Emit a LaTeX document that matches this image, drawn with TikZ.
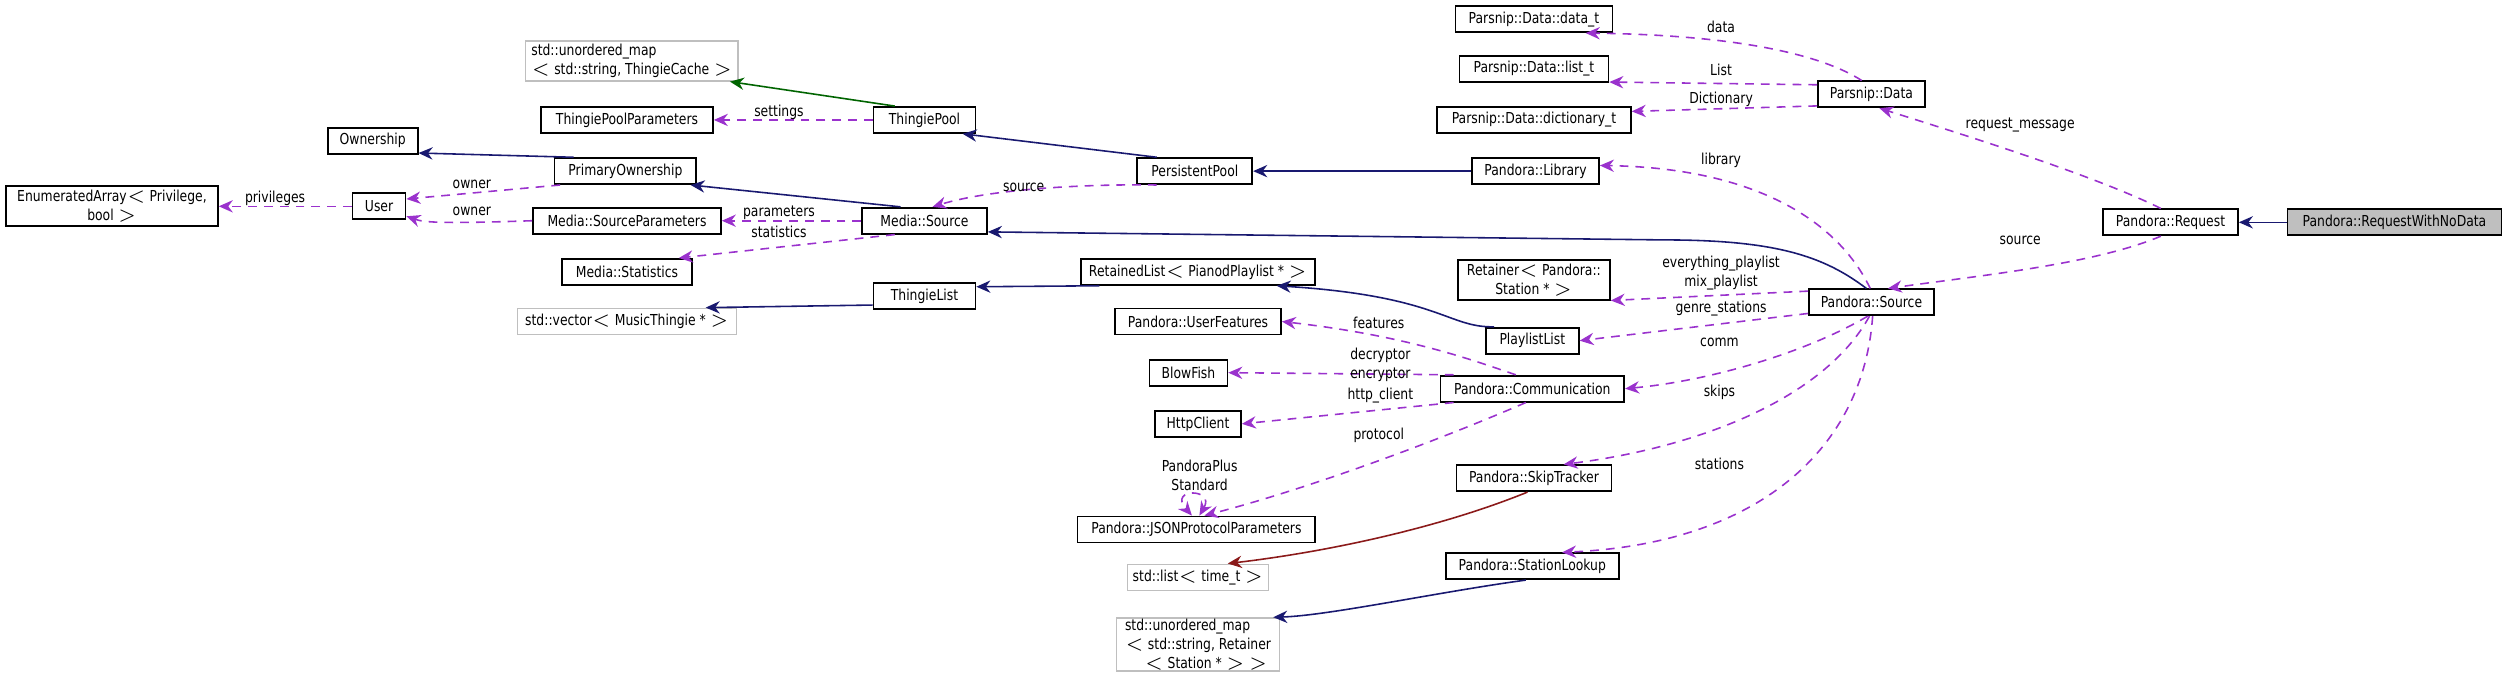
\documentclass[tikz,border=0pt]{standalone}
\usepackage{fontspec}
\setmainfont{DejaVu Sans}[FakeStretch=0.82]
\usetikzlibrary{arrows.meta}
\definecolor{inhc}{HTML}{191970}
\definecolor{usec}{HTML}{9A32CD}
\definecolor{tplc}{HTML}{006400}
\definecolor{redc}{HTML}{8B1A1A}
\definecolor{grayb}{HTML}{BFBFBF}
\begin{document}
\begin{tikzpicture}[x=0.016cm,y=-0.016cm,
  box/.style={draw=black,line width=0.5pt,inner sep=0,minimum height=0.26cm,align=center,font=\fontsize{4.3}{5.4}\selectfont},
  gbox/.style={box,draw=grayb},
  lbl/.style={inner sep=0,align=center,font=\fontsize{4.3}{5.4}\selectfont},
  inh/.style={draw=inhc,line width=0.45pt,-{Stealth[length=4pt,width=3.5pt]}},
  use/.style={draw=usec,line width=0.45pt,dash pattern=on 2.5pt off 2pt,-{Stealth[length=4pt,width=3.5pt]}},
  tpl/.style={draw=tplc,line width=0.45pt,-{Stealth[length=4pt,width=3.5pt]}},
  rd/.style={draw=redc,line width=0.45pt,-{Stealth[length=4pt,width=3.5pt]}}]
\useasboundingbox (0,0) rectangle (1568,424);
% nodes
\node[box,minimum width=2.12cm,minimum height=0.4cm] (ea) at (70,129) {EnumeratedArray$<$ Privilege,\\bool $>$};
\node[box,minimum width=0.53cm] (user) at (237,129) {User};
\node[box,minimum width=0.9cm] (own) at (233,88) {Ownership};
\node[box,minimum width=1.42cm] (po) at (391,107) {PrimaryOwnership};
\node[gbox,minimum width=2.13cm,minimum height=0.4cm,align=left] (tc) at (395,38) {std::unordered\_map\\$<$ std::string, ThingieCache $>$};
\node[box,minimum width=1.72cm] (tpp) at (392,75) {ThingiePoolParameters};
\node[box,minimum width=1.02cm] (tp) at (578,75) {ThingiePool};
\node[box,minimum width=1.88cm] (sp) at (392,138) {Media::SourceParameters};
\node[box,minimum width=1.3cm] (stat) at (392,170) {Media::Statistics};
\node[gbox,minimum width=2.19cm] (vec) at (392,201) {std::vector$<$ MusicThingie * $>$};
\node[box,minimum width=1.25cm] (msrc) at (578,138) {Media::Source};
\node[box,minimum width=1.02cm] (tl) at (578,185) {ThingieList};
\node[box,minimum width=1.15cm] (pp) at (747,107) {PersistentPool};
\node[box,minimum width=2.34cm] (rl) at (749,170) {RetainedList$<$ PianodPlaylist * $>$};
\node[box,minimum width=1.66cm] (uf) at (749,201) {Pandora::UserFeatures};
\node[box,minimum width=0.78cm] (bf) at (743,233) {BlowFish};
\node[box,minimum width=0.86cm] (hc) at (749,265) {HttpClient};
\node[box,minimum width=2.38cm] (json) at (748,331) {Pandora::JSONProtocolParameters};
\node[gbox,minimum width=1.41cm] (lst) at (749,361) {std::list$<$ time\_t $>$};
\node[gbox,minimum width=1.63cm,minimum height=0.53cm,align=left] (um) at (749,403) {std::unordered\_map\\$<$ std::string, Retainer\\\ \ \ \ \ $<$ Station * $>$ $>$};
\node[box,minimum width=1.27cm] (lib) at (960,107) {Pandora::Library};
\node[box,minimum width=1.52cm,minimum height=0.4cm] (ret) at (959,175) {Retainer$<$ Pandora::\\Station * $>$};
\node[box,minimum width=0.93cm] (pl) at (958,213) {PlaylistList};
\node[box,minimum width=1.84cm] (comm) at (958,243) {Pandora::Communication};
\node[box,minimum width=1.55cm] (skip) at (959,299) {Pandora::SkipTracker};
\node[box,minimum width=1.73cm] (sl) at (958,354) {Pandora::StationLookup};
\node[box,minimum width=1.57cm] (dt) at (959,12) {Parsnip::Data::data\_t};
\node[box,minimum width=1.49cm] (lt) at (959,43) {Parsnip::Data::list\_t};
\node[box,minimum width=1.94cm] (dict) at (959,75) {Parsnip::Data::dictionary\_t};
\node[box,minimum width=1.07cm] (pdata) at (1170,59) {Parsnip::Data};
\node[box,minimum width=1.25cm] (src) at (1170,189) {Pandora::Source};
\node[box,minimum width=1.35cm] (req) at (1357,139) {Pandora::Request};
\node[box,fill=grayb,minimum width=2.14cm] (rwnd) at (1497,139) {Pandora::RequestWithNoData};
% edges
\draw[inh] (rwnd) -- (req);
\draw[use] (req.125) .. controls (1310,110) and (1230,85) .. (pdata.-60);
\draw[use] (req.-125) .. controls (1310,165) and (1240,172) .. (src.40);
\draw[use] (pdata.125) .. controls (1140,35) and (1090,22) .. (dt.-15);
\draw[use] (pdata.170) -- (lt.-10);
\draw[use] (pdata.-168) -- (dict.5);
\draw[use] (src.95) .. controls (1150,140) and (1100,105) .. (lib.5);
\draw[inh] (src.110) .. controls (1140,160) and (1110,150) .. (1040,150) -- (msrc.-10);
\draw[use] (src.170) -- (ret.-15);
\draw[use] (src.-170) -- (pl.east);
\draw[use] (src.-105) .. controls (1130,220) and (1070,238) .. (comm.east);
\draw[use] (src.-98) .. controls (1140,250) and (1060,280) .. (skip.25);
\draw[use] (src.-85) .. controls (1165,280) and (1100,340) .. (sl.25);
\draw[inh] (lib) -- (pp);
\draw[inh] (pp.160) -- (tp.-20);
\draw[use] (pp.-160) .. controls (680,115) and (620,118) .. (msrc.60);
\draw[tpl] (tp.155) -- (tc.-12);
\draw[use] (tp.west) -- (tpp.east);
\draw[inh] (msrc.150) -- (po.-12);
\draw[use] (msrc.west) -- (sp.east);
\draw[use] (msrc.-155) -- (stat.15);
\draw[inh] (po.165) -- (own.-15);
\draw[use] (po.-168) -- (user.15);
\draw[use] (sp.west) .. controls (275,140) and (265,139) .. (user.-20);
\draw[use] (user) -- (ea);
\draw[inh] (tl.-170) -- (vec.10);
\draw[inh] (rl.-172) -- (tl.10);
\draw[inh] (pl.160) .. controls (905,205) and (900,185) .. (rl.-10);
\draw[use] (comm.140) .. controls (920,225) and (880,210) .. (uf.east);
\draw[use] (comm.170) -- (bf.east);
\draw[use] (comm.-170) -- (hc.east);
\draw[use] (comm.-115) .. controls (900,275) and (820,305) .. (json.60);
\draw[use,{Stealth[length=4pt,width=3.5pt]}-{Stealth[length=4pt,width=3.5pt]}] (json.78) .. controls (760,305) and (730,305) .. (json.108);
\draw[rd] (skip.-115) .. controls (900,330) and (830,345) .. (lst.25);
\draw[inh] (sl.-115) .. controls (900,370) and (830,385) .. (um.20);
% labels
\node[lbl] (l1) at (1263,78) {request\_message};
\node[lbl] (l2) at (1263,150) {source};
\node[lbl] (l3) at (1076,17) {data};
\node[lbl] (l4) at (1076,44) {List};
\node[lbl] (l5) at (1076,62) {Dictionary};
\node[lbl] (l6) at (1076,100) {library};
\node[lbl] (l7) at (1076,171) {everything\_playlist\\mix\_playlist};
\node[lbl] (l8) at (1076,193) {genre\_stations};
\node[lbl] (l9) at (1075,214) {comm};
\node[lbl] (l10) at (1075,245) {skips};
\node[lbl] (l11) at (1075,290) {stations};
\node[lbl] (l12) at (640,117) {source};
\node[lbl] (l13) at (487,70) {settings};
\node[lbl] (l14) at (487,133) {parameters};
\node[lbl] (l15) at (487,145) {statistics};
\node[lbl] (l16) at (295,115) {owner};
\node[lbl] (l17) at (295,132) {owner};
\node[lbl] (l18) at (172,124) {privileges};
\node[lbl] (l19) at (862,202) {features};
\node[lbl] (l20) at (863,228) {decryptor\\encryptor};
\node[lbl] (l21) at (863,247) {http\_client};
\node[lbl] (l22) at (862,272) {protocol};
\node[lbl] (l23) at (750,297) {PandoraPlus\\Standard};
\end{tikzpicture}
\end{document}
